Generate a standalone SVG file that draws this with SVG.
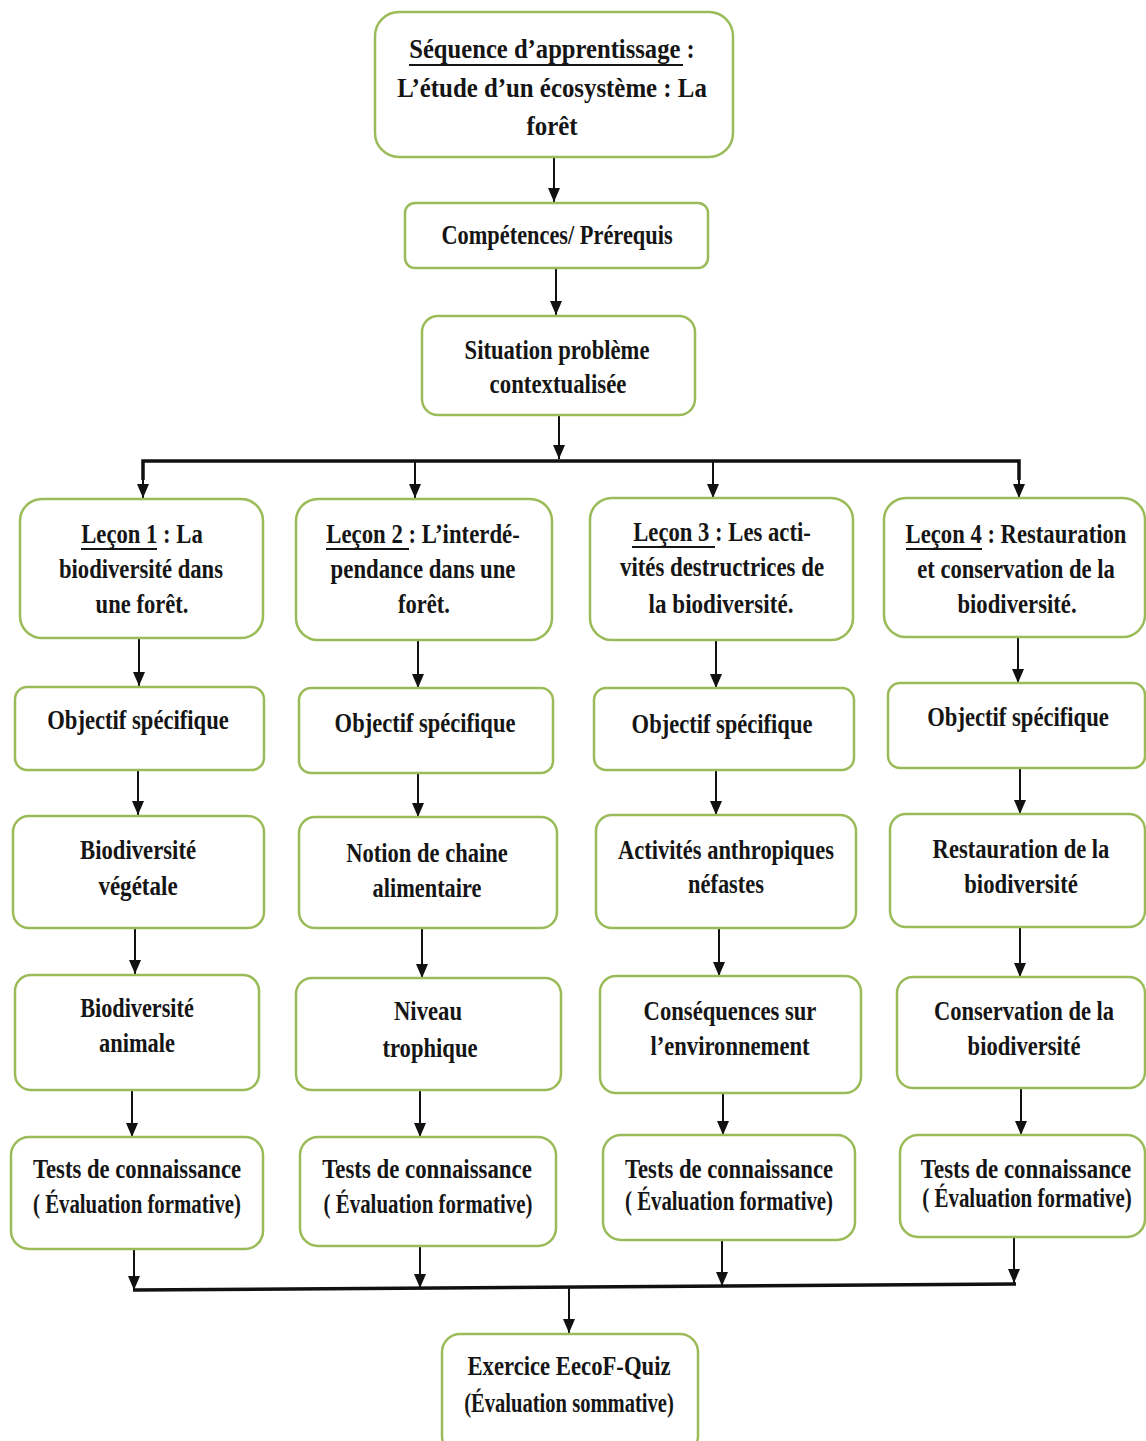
<svg xmlns="http://www.w3.org/2000/svg" width="1146" height="1441" viewBox="0 0 1146 1441">
<defs>
<style>
.n{fill:#fff;stroke:#9bbb59;stroke-width:2.5}
.t{font-family:"Liberation Serif","Times New Roman",serif;font-weight:bold;font-size:28px;text-anchor:middle;fill:#151515}
.ul{stroke:#151515;stroke-width:2}
.c{stroke:#111;stroke-width:2;fill:none}
.b{stroke:#111;stroke-width:3.5;fill:none}
</style>
<marker id="a" markerUnits="userSpaceOnUse" markerWidth="14" markerHeight="12" refX="14" refY="6" orient="auto" viewBox="0 0 14 12">
<path d="M0,0 L14,6 L0,12 Z" fill="#111"/>
</marker>
</defs>
<rect width="1146" height="1441" fill="#fff"/>

<g id="connectors">
<line class="c" x1="554" y1="158" x2="554" y2="202" marker-end="url(#a)"/>
<line class="c" x1="556" y1="269" x2="556" y2="315" marker-end="url(#a)"/>
<line class="c" x1="559" y1="415" x2="559" y2="459" marker-end="url(#a)"/>
<polyline class="b" points="143,480 143,461 1019,461 1019,480"/>
<line class="c" x1="143" y1="462" x2="143" y2="498" marker-end="url(#a)"/>
<line class="c" x1="415" y1="462" x2="415" y2="498" marker-end="url(#a)"/>
<line class="c" x1="713" y1="462" x2="713" y2="498" marker-end="url(#a)"/>
<line class="c" x1="1019" y1="462" x2="1019" y2="498" marker-end="url(#a)"/>

<line class="c" x1="139" y1="638" x2="139" y2="686" marker-end="url(#a)"/>
<line class="c" x1="418" y1="640" x2="418" y2="688" marker-end="url(#a)"/>
<line class="c" x1="716" y1="640" x2="716" y2="688" marker-end="url(#a)"/>
<line class="c" x1="1018" y1="637" x2="1018" y2="683" marker-end="url(#a)"/>

<line class="c" x1="138" y1="770" x2="138" y2="815" marker-end="url(#a)"/>
<line class="c" x1="418" y1="773" x2="418" y2="817" marker-end="url(#a)"/>
<line class="c" x1="716" y1="770" x2="716" y2="815" marker-end="url(#a)"/>
<line class="c" x1="1020" y1="768" x2="1020" y2="814" marker-end="url(#a)"/>

<line class="c" x1="135" y1="928" x2="135" y2="974" marker-end="url(#a)"/>
<line class="c" x1="422" y1="928" x2="422" y2="978" marker-end="url(#a)"/>
<line class="c" x1="719" y1="928" x2="719" y2="976" marker-end="url(#a)"/>
<line class="c" x1="1020" y1="927" x2="1020" y2="977" marker-end="url(#a)"/>

<line class="c" x1="132" y1="1090" x2="132" y2="1137" marker-end="url(#a)"/>
<line class="c" x1="420" y1="1090" x2="420" y2="1137" marker-end="url(#a)"/>
<line class="c" x1="723" y1="1093" x2="723" y2="1135" marker-end="url(#a)"/>
<line class="c" x1="1021" y1="1088" x2="1021" y2="1135" marker-end="url(#a)"/>

<line class="b" x1="133" y1="1290" x2="1016" y2="1284"/>
<line class="c" x1="134" y1="1250" x2="134" y2="1290" marker-end="url(#a)"/>
<line class="c" x1="420" y1="1247" x2="420" y2="1288" marker-end="url(#a)"/>
<line class="c" x1="722" y1="1241" x2="722" y2="1286" marker-end="url(#a)"/>
<line class="c" x1="1014" y1="1238" x2="1014" y2="1283" marker-end="url(#a)"/>
<line class="c" x1="569" y1="1288" x2="569" y2="1333" marker-end="url(#a)"/>
</g>

<g id="sequence">
<rect class="n" x="375" y="12" width="358" height="145" rx="24"/>
<text class="t" transform="translate(552 58) scale(0.8 1)" textLength="357" lengthAdjust="spacingAndGlyphs">Séquence d’apprentissage :</text>
<line class="ul" x1="409" y1="65" x2="683" y2="65"/>
<text class="t" transform="translate(552 97) scale(0.8 1)" textLength="387" lengthAdjust="spacingAndGlyphs">L’étude d’un écosystème : La</text>
<text class="t" transform="translate(552 135) scale(0.8 1)" textLength="64" lengthAdjust="spacingAndGlyphs">forêt</text>
</g>

<g id="competences">
<rect class="n" x="405" y="203" width="303" height="65" rx="10"/>
<text class="t" transform="translate(557 244) scale(0.8 1)" textLength="289" lengthAdjust="spacingAndGlyphs">Compétences/ Prérequis</text>
</g>

<g id="situation">
<rect class="n" x="422" y="316" width="273" height="99" rx="16"/>
<text class="t" transform="translate(557 359) scale(0.8 1)" textLength="231" lengthAdjust="spacingAndGlyphs">Situation problème</text>
<text class="t" transform="translate(558 393) scale(0.8 1)" textLength="171" lengthAdjust="spacingAndGlyphs">contextualisée</text>
</g>

<g id="lecon1">
<rect class="n" x="20" y="499" width="243" height="139" rx="22"/>
<text class="t" transform="translate(142 543) scale(0.8 1)" textLength="152" lengthAdjust="spacingAndGlyphs">Leçon 1 : La</text>
<line class="ul" x1="81" y1="549" x2="157" y2="549"/>
<text class="t" transform="translate(141 578) scale(0.8 1)" textLength="205" lengthAdjust="spacingAndGlyphs">biodiversité dans</text>
<text class="t" transform="translate(142 613) scale(0.8 1)" textLength="116" lengthAdjust="spacingAndGlyphs">une forêt.</text>
</g>
<g id="lecon2">
<rect class="n" x="296" y="499" width="256" height="141" rx="22"/>
<text class="t" transform="translate(423 543) scale(0.8 1)" textLength="242" lengthAdjust="spacingAndGlyphs">Leçon 2 : L’interdé-</text>
<line class="ul" x1="326" y1="549" x2="409" y2="549"/>
<text class="t" transform="translate(423 578) scale(0.8 1)" textLength="231" lengthAdjust="spacingAndGlyphs">pendance dans une</text>
<text class="t" transform="translate(424 613) scale(0.8 1)" textLength="65" lengthAdjust="spacingAndGlyphs">forêt.</text>
</g>
<g id="lecon3">
<rect class="n" x="590" y="498" width="263" height="142" rx="22"/>
<text class="t" transform="translate(722 541) scale(0.8 1)" textLength="222" lengthAdjust="spacingAndGlyphs">Leçon 3 : Les acti-</text>
<line class="ul" x1="632" y1="547" x2="715" y2="547"/>
<text class="t" transform="translate(722 576) scale(0.8 1)" textLength="255" lengthAdjust="spacingAndGlyphs">vités destructrices de</text>
<text class="t" transform="translate(721 613) scale(0.8 1)" textLength="181" lengthAdjust="spacingAndGlyphs">la biodiversité.</text>
</g>
<g id="lecon4">
<rect class="n" x="884" y="498" width="261" height="139" rx="22"/>
<text class="t" transform="translate(1016 543) scale(0.8 1)" textLength="276" lengthAdjust="spacingAndGlyphs">Leçon 4 : Restauration</text>
<line class="ul" x1="906" y1="549" x2="982" y2="549"/>
<text class="t" transform="translate(1016 578) scale(0.8 1)" textLength="247" lengthAdjust="spacingAndGlyphs">et conservation de la</text>
<text class="t" transform="translate(1017 613) scale(0.8 1)" textLength="149" lengthAdjust="spacingAndGlyphs">biodiversité.</text>
</g>

<g id="objectif1">
<rect class="n" x="15" y="687" width="249" height="83" rx="12"/>
<text class="t" transform="translate(138 729) scale(0.8 1)" textLength="227" lengthAdjust="spacingAndGlyphs">Objectif spécifique</text>
</g>
<g id="objectif2">
<rect class="n" x="299" y="688" width="254" height="85" rx="12"/>
<text class="t" transform="translate(425 732) scale(0.8 1)" textLength="226" lengthAdjust="spacingAndGlyphs">Objectif spécifique</text>
</g>
<g id="objectif3">
<rect class="n" x="594" y="688" width="260" height="82" rx="12"/>
<text class="t" transform="translate(722 733) scale(0.8 1)" textLength="226" lengthAdjust="spacingAndGlyphs">Objectif spécifique</text>
</g>
<g id="objectif4">
<rect class="n" x="888" y="683" width="257" height="85" rx="12"/>
<text class="t" transform="translate(1018 726) scale(0.8 1)" textLength="227" lengthAdjust="spacingAndGlyphs">Objectif spécifique</text>
</g>

<g id="biodiv-vegetale">
<rect class="n" x="13" y="816" width="251" height="112" rx="16"/>
<text class="t" transform="translate(138 859) scale(0.8 1)" textLength="145" lengthAdjust="spacingAndGlyphs">Biodiversité</text>
<text class="t" transform="translate(138 895) scale(0.8 1)" textLength="99" lengthAdjust="spacingAndGlyphs">végétale</text>
</g>
<g id="chaine-alimentaire">
<rect class="n" x="299" y="817" width="258" height="111" rx="16"/>
<text class="t" transform="translate(427 862) scale(0.8 1)" textLength="202" lengthAdjust="spacingAndGlyphs">Notion de chaine</text>
<text class="t" transform="translate(427 897) scale(0.8 1)" textLength="136" lengthAdjust="spacingAndGlyphs">alimentaire</text>
</g>
<g id="activites">
<rect class="n" x="596" y="815" width="260" height="113" rx="16"/>
<text class="t" transform="translate(726 859) scale(0.8 1)" textLength="270" lengthAdjust="spacingAndGlyphs">Activités anthropiques</text>
<text class="t" transform="translate(726 893) scale(0.8 1)" textLength="95" lengthAdjust="spacingAndGlyphs">néfastes</text>
</g>
<g id="restauration">
<rect class="n" x="890" y="814" width="255" height="113" rx="16"/>
<text class="t" transform="translate(1021 858) scale(0.8 1)" textLength="221" lengthAdjust="spacingAndGlyphs">Restauration de la</text>
<text class="t" transform="translate(1021 893) scale(0.8 1)" textLength="142" lengthAdjust="spacingAndGlyphs">biodiversité</text>
</g>

<g id="biodiv-animale">
<rect class="n" x="15" y="975" width="244" height="115" rx="16"/>
<text class="t" transform="translate(137 1017) scale(0.8 1)" textLength="142" lengthAdjust="spacingAndGlyphs">Biodiversité</text>
<text class="t" transform="translate(137 1052) scale(0.8 1)" textLength="95" lengthAdjust="spacingAndGlyphs">animale</text>
</g>
<g id="niveau-trophique">
<rect class="n" x="296" y="978" width="265" height="112" rx="16"/>
<text class="t" transform="translate(428 1020) scale(0.8 1)" textLength="85" lengthAdjust="spacingAndGlyphs">Niveau</text>
<text class="t" transform="translate(430 1057) scale(0.8 1)" textLength="119" lengthAdjust="spacingAndGlyphs">trophique</text>
</g>
<g id="consequences">
<rect class="n" x="600" y="976" width="261" height="117" rx="16"/>
<text class="t" transform="translate(730 1020) scale(0.8 1)" textLength="216" lengthAdjust="spacingAndGlyphs">Conséquences sur</text>
<text class="t" transform="translate(730 1055) scale(0.8 1)" textLength="199" lengthAdjust="spacingAndGlyphs">l’environnement</text>
</g>
<g id="conservation">
<rect class="n" x="897" y="977" width="248" height="111" rx="16"/>
<text class="t" transform="translate(1024 1020) scale(0.8 1)" textLength="225" lengthAdjust="spacingAndGlyphs">Conservation de la</text>
<text class="t" transform="translate(1024 1055) scale(0.8 1)" textLength="141" lengthAdjust="spacingAndGlyphs">biodiversité</text>
</g>

<g id="tests1">
<rect class="n" x="11" y="1137" width="252" height="112" rx="18"/>
<text class="t" transform="translate(137 1178) scale(0.8 1)" textLength="260" lengthAdjust="spacingAndGlyphs">Tests de connaissance</text>
<text class="t" transform="translate(137 1213) scale(0.8 1)" textLength="260" lengthAdjust="spacingAndGlyphs">( Évaluation formative)</text>
</g>
<g id="tests2">
<rect class="n" x="300" y="1137" width="256" height="109" rx="18"/>
<text class="t" transform="translate(427 1178) scale(0.8 1)" textLength="262" lengthAdjust="spacingAndGlyphs">Tests de connaissance</text>
<text class="t" transform="translate(428 1213) scale(0.8 1)" textLength="261" lengthAdjust="spacingAndGlyphs">( Évaluation formative)</text>
</g>
<g id="tests3">
<rect class="n" x="603" y="1135" width="252" height="105" rx="18"/>
<text class="t" transform="translate(729 1178) scale(0.8 1)" textLength="260" lengthAdjust="spacingAndGlyphs">Tests de connaissance</text>
<text class="t" transform="translate(729 1210) scale(0.8 1)" textLength="260" lengthAdjust="spacingAndGlyphs">( Évaluation formative)</text>
</g>
<g id="tests4">
<rect class="n" x="900" y="1135" width="245" height="102" rx="18"/>
<text class="t" transform="translate(1026 1178) scale(0.8 1)" textLength="263" lengthAdjust="spacingAndGlyphs">Tests de connaissance</text>
<text class="t" transform="translate(1027 1207) scale(0.8 1)" textLength="262" lengthAdjust="spacingAndGlyphs">( Évaluation formative)</text>
</g>

<g id="exercice">
<rect class="n" x="442" y="1334" width="256" height="120" rx="18"/>
<text class="t" transform="translate(569 1375) scale(0.8 1)" textLength="254" lengthAdjust="spacingAndGlyphs">Exercice EecoF-Quiz</text>
<text class="t" transform="translate(569 1412) scale(0.8 1)" textLength="262" lengthAdjust="spacingAndGlyphs">(Évaluation sommative)</text>
</g>
</svg>
